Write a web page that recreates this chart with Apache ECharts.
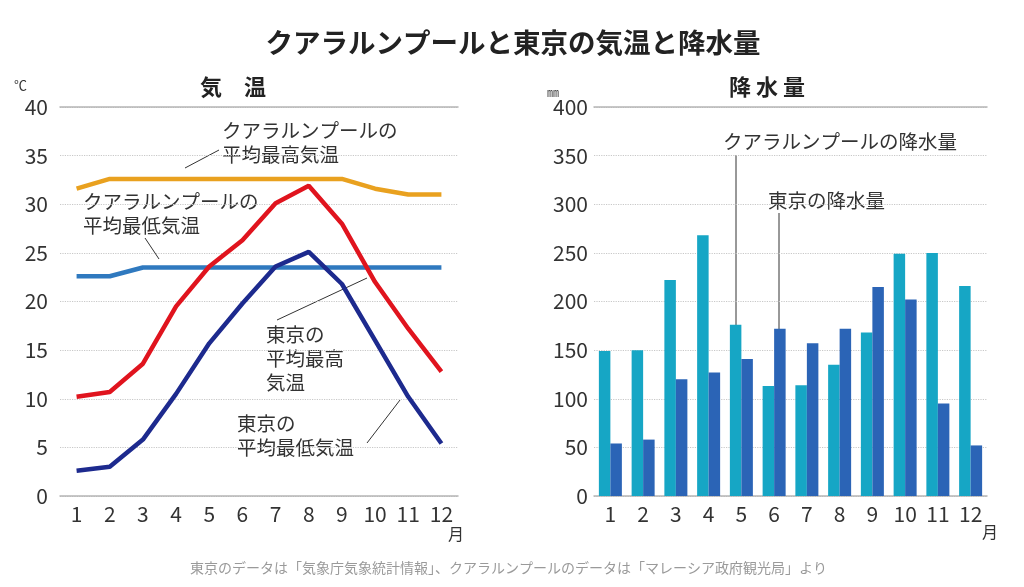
<!DOCTYPE html>
<html><head><meta charset="utf-8">
<script src="https://cdn.jsdelivr.net/npm/echarts@6/dist/echarts.min.js"></script>
<style>html,body{margin:0;padding:0;background:#fff}#c{width:1024px;height:587px}</style>
</head><body><div id="c"></div>
<script>
const months = ['1','2','3','4','5','6','7','8','9','10','11','12'];
const tempTicksMax = 40, tempInterval = 5;
const rainTicksMax = 400, rainInterval = 50;
const klMax = [31.6, 32.6, 32.6, 32.6, 32.6, 32.6, 32.6, 32.6, 32.6, 31.6, 31.0, 31.0];
const klMin = [22.6, 22.6, 23.5, 23.5, 23.5, 23.5, 23.5, 23.5, 23.5, 23.5, 23.5, 23.5];
const tkMax = [10.2, 10.7, 13.6, 19.5, 23.6, 26.3, 30.1, 31.9, 28.0, 22.0, 17.2, 12.8];
const tkMin = [2.6, 3.0, 5.8, 10.5, 15.7, 19.8, 23.6, 25.1, 21.8, 16.0, 10.2, 5.4];
const klRain = [149, 150, 222, 268, 176, 113, 114, 135, 168, 249, 250, 216];
const tkRain = [54, 58, 120, 127, 141, 172, 157, 172, 215, 202, 95, 52];

const FONT = '"Noto Sans CJK JP", "Noto Sans", sans-serif';
const chart = echarts.init(document.getElementById('c'));
function txt(x, y, text, extra){ return {type:'text', left:x, top:y, style:Object.assign({text:text, fill:'#333', font:'19.5px ' + FONT, lineHeight:24}, extra||{})}; }
function seg(x1,y1,x2,y2){ return {type:'line', shape:{x1:x1,y1:y1,x2:x2,y2:y2}, style:{stroke:'#333', lineWidth:1}}; }

const xBase = {
  type:'category', data:months, boundaryGap:true,
  axisLine:{show:true, lineStyle:{color:'#b5b5b5', width:1.5}},
  axisTick:{show:false},
  axisLabel:{color:'#333', fontSize:21, fontFamily:FONT, margin:8}
};
const xTop = {type:'category', data:months, position:'top', axisLine:{show:true, lineStyle:{color:'#b5b5b5', width:1.5}}, axisTick:{show:false}, axisLabel:{show:false}};
const ySplit = {show:true, lineStyle:{color:'#c8c8c8', type:'dotted', width:1.2}};

chart.setOption({
  animation:false,
  backgroundColor:'#fff',
  title:{text:'クアラルンプールと東京の気温と降水量', left:508, top:24, textAlign:'center',
    textStyle:{fontSize:27.5, fontWeight:'bold', color:'#222', fontFamily:FONT}},
  grid:[
    {left:60, top:107, width:398, height:389},
    {left:594, top:107, width:393, height:389}
  ],
  xAxis:[
    Object.assign({gridIndex:0}, xBase),
    Object.assign({gridIndex:1}, xBase),
    Object.assign({gridIndex:0}, xTop),
    Object.assign({gridIndex:1}, xTop)
  ],
  yAxis:[
    {gridIndex:0, type:'value', min:0, max:tempTicksMax, interval:tempInterval,
     axisLine:{show:false}, axisTick:{show:false}, splitLine:ySplit,
     axisLabel:{color:'#333', fontSize:21, fontFamily:FONT, margin:12}},
    {gridIndex:1, type:'value', min:0, max:rainTicksMax, interval:rainInterval,
     axisLine:{show:false}, axisTick:{show:false}, splitLine:ySplit,
     axisLabel:{color:'#333', fontSize:21, fontFamily:FONT, margin:6}}
  ],
  series:[
    {type:'line', xAxisIndex:0, yAxisIndex:0, data:klMax, symbol:'none', lineStyle:{color:'#E9A11F', width:4.5}, z:3},
    {type:'line', xAxisIndex:0, yAxisIndex:0, data:klMin, symbol:'none', lineStyle:{color:'#2F79BF', width:4.5}, z:3},
    {type:'line', xAxisIndex:0, yAxisIndex:0, data:tkMax, symbol:'none', lineStyle:{color:'#E0141E', width:4.5}, z:4},
    {type:'line', xAxisIndex:0, yAxisIndex:0, data:tkMin, symbol:'none', lineStyle:{color:'#1D2A8E', width:4.5}, z:5},
    {type:'bar', xAxisIndex:1, yAxisIndex:1, data:klRain, barWidth:11.5, barGap:'0%', itemStyle:{color:'#16A6C5'}},
    {type:'bar', xAxisIndex:1, yAxisIndex:1, data:tkRain, barWidth:11.5, barGap:'0%', itemStyle:{color:'#2B64B6'}}
  ],
  graphic:[
    txt(14, 73, '℃', {font:'13px ' + FONT}),
    txt(200, 75, '気　温', {font:'bold 22px ' + FONT, fill:'#222'}),
    txt(547, 80, '㎜', {font:'12px ' + FONT}),
    txt(729, 75, '降 水 量', {font:'bold 22px ' + FONT, fill:'#222'}),
    txt(448, 522, '月', {font:'16px ' + FONT}),
    txt(982, 520, '月', {font:'16px ' + FONT}),
    txt(222, 119, 'クアラルンプールの\n平均最高気温'),
    seg(185, 168, 219, 150),
    txt(83, 190, 'クアラルンプールの\n平均最低気温'),
    seg(145, 238, 159, 259),
    txt(266, 323, '東京の\n平均最高\n気温'),
    seg(277, 320, 367, 278),
    txt(237, 412, '東京の\n平均最低気温'),
    seg(367, 443, 400, 400),
    txt(723, 130, 'クアラルンプールの降水量'),
    seg(736, 155, 736, 325),
    txt(768, 189, '東京の降水量'),
    seg(779, 213, 779, 329),
    txt(190, 556, '東京のデータは「気象庁気象統計情報」、クアラルンプールのデータは「マレーシア政府観光局」より', {font:'14px ' + FONT, fill:'#9a9a9a'})
  ]
});
</script></body></html>
